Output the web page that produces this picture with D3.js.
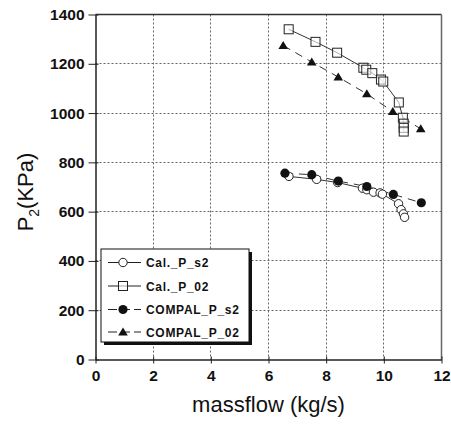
<!DOCTYPE html>
<html><head><meta charset="utf-8">
<script src="https://cdn.jsdelivr.net/npm/d3@7"></script>
<style>body{margin:0;background:#fff}svg{display:block}</style>
</head><body>
<svg id="c" width="451" height="424"></svg>
<script>
const xTicks = [0,2,4,6,8,10,12];
const yTicks = [0,200,400,600,800,1000,1200,1400];
const seriesNames = ["Cal._P_s2","Cal._P_02","COMPAL_P_s2","COMPAL_P_02"];
const calPs2X = [6.71,7.67,8.40,9.26,9.41,9.64,9.87,9.95,10.51,10.60,10.68,10.72];
const calPs2Y = [743,731,718,695,689,679,676,671,632,608,591,577];
const calP02X = [6.70,7.63,8.38,9.29,9.39,9.60,9.90,9.98,10.52,10.66,10.69,10.69,10.69];
const calP02Y = [1340,1289,1245,1184,1176,1162,1136,1128,1043,981,957,940,925];
const compPs2X = [6.57,7.50,8.42,9.41,10.33,11.30];
const compPs2Y = [756,750,724,702,670,636];
const compP02X = [6.51,7.50,8.42,9.41,10.31,11.28];
const compP02Y = [1274,1207,1146,1078,1006,936];

const svg = d3.select("#c");
const L=95.5, R=441.5, T=14.5, B=359.5;
const x = d3.scaleLinear().domain([0,12]).range([L,R]);
const y = d3.scaleLinear().domain([0,1400]).range([B,T]);
const snap = v => Math.round(v-0.5)+0.5;

// grid
const grid = svg.append("g").attr("class","grid");
grid.selectAll("line.gx").data(xTicks.slice(1,-1)).join("line").attr("class","gx")
  .attr("x1",d=>snap(x(d))).attr("x2",d=>snap(x(d))).attr("y1",T).attr("y2",B)
  .style("stroke","#666").style("stroke-width","1px").style("stroke-dasharray","2,2");
grid.selectAll("line.gy").data(yTicks.slice(1,-1)).join("line").attr("class","gy")
  .attr("x1",L).attr("x2",R).attr("y1",d=>snap(y(d))).attr("y2",d=>snap(y(d)))
  .style("stroke","#666").style("stroke-width","1px").style("stroke-dasharray","2,2");

// frame
svg.append("line").attr("x1",L).attr("x2",R).attr("y1",T).attr("y2",T).attr("stroke","#333").attr("stroke-width",1.5);
svg.append("line").attr("x1",R).attr("x2",R).attr("y1",T).attr("y2",B).attr("stroke","#666").attr("stroke-width",1.5);

// axes
const tickFont = "bold 15.5px 'Liberation Sans', Arial, sans-serif";
const xAxis = svg.append("g").attr("transform",`translate(0,${B})`)
  .call(d3.axisBottom(x).tickValues(xTicks).tickFormat(d3.format("d")).tickSizeInner(4).tickSizeOuter(0).tickPadding(6));
xAxis.selectAll(".tick line").attr("y1",-3);
const yAxis = svg.append("g").attr("transform",`translate(${L},0)`)
  .call(d3.axisLeft(y).tickValues(yTicks).tickFormat(d3.format("d")).tickSizeInner(7).tickSizeOuter(0).tickPadding(4));
yAxis.selectAll(".tick line").attr("x1",3);
[xAxis,yAxis].forEach(a=>{
  a.select(".domain").attr("stroke","#222").attr("stroke-width",1.5);
  a.selectAll(".tick line").attr("stroke","#222");
  a.selectAll("text").style("font",tickFont).attr("fill","#111");
});

// axis titles
svg.append("text").attr("x",(L+R)/2).attr("y",412).attr("text-anchor","middle")
  .style("font","22px 'Liberation Sans', Arial, sans-serif").attr("fill","#111").text("massflow (kg/s)");
const yt = svg.append("text").attr("transform","translate(33,192) rotate(-90)").attr("text-anchor","middle")
  .style("font","22px 'Liberation Sans', Arial, sans-serif").attr("fill","#111");
yt.append("tspan").text("P");
yt.append("tspan").attr("dy",6).style("font-size","14px").text("2");
yt.append("tspan").attr("dy",-6).text("(KPa)");

// lines
const line = d3.line().x(d=>x(d[0])).y(d=>y(d[1]));
const zip = (a,b)=>a.map((v,i)=>[v,b[i]]);
const series = [
  {name:seriesNames[0], pts:zip(calPs2X,calPs2Y), dash:null, marker:"circleOpen"},
  {name:seriesNames[1], pts:zip(calP02X,calP02Y), dash:null, marker:"square"},
  {name:seriesNames[2], pts:zip(compPs2X,compPs2Y), dash:"8,6", marker:"circleFilled"},
  {name:seriesNames[3], pts:zip(compP02X,compP02Y), dash:"8,6", marker:"triangle"},
];
function drawMarker(g, type, cx, cy){
  if(type==="circleOpen") g.append("circle").attr("cx",cx).attr("cy",cy).attr("r",4.2).attr("fill","#fff").attr("stroke","#222").attr("stroke-width",1);
  else if(type==="circleFilled") g.append("circle").attr("cx",cx).attr("cy",cy).attr("r",4.6).attr("fill","#111");
  else if(type==="square") g.append("rect").attr("x",cx-4.5).attr("y",cy-4.5).attr("width",9).attr("height",9).attr("fill","#fff").attr("fill-opacity",0.6).attr("stroke","#222").attr("stroke-width",1);
  else if(type==="triangle") g.append("path").attr("d",`M${cx},${cy-4.5}L${cx+4.8},${cy+3.5}L${cx-4.8},${cy+3.5}Z`).attr("fill","#111");
}
series.forEach(s=>{
  svg.append("path").datum(s.pts).attr("d",line).attr("fill","none")
    .attr("stroke","#333").attr("stroke-width",1).attr("stroke-dasharray",s.dash);
});
series.forEach(s=>{
  const g = svg.append("g");
  s.pts.forEach(p=>drawMarker(g,s.marker,x(p[0]),y(p[1])));
});

// legend
const lg = svg.append("g");
lg.append("rect").attr("x",104).attr("y",252).attr("width",148).attr("height",93).attr("fill","#111");
lg.append("rect").attr("x",101).attr("y",249).attr("width",148).attr("height",93).attr("fill","#fff").attr("stroke","#111").attr("stroke-width",1);
const ly = [262.5,286,309.5,332];
series.forEach((s,i)=>{
  lg.append("line").attr("x1",108).attr("x2",141).attr("y1",ly[i]).attr("y2",ly[i])
    .attr("stroke","#222").attr("stroke-width",1).attr("stroke-dasharray",s.dash?"9,4":null);
  drawMarker(lg,s.marker,123,ly[i]);
  lg.append("text").attr("x",146).attr("y",ly[i]+4.5)
    .style("font","bold 12px 'Liberation Sans', Arial, sans-serif").attr("letter-spacing","0.7px").attr("fill","#111").text(s.name);
});
</script>
</body></html>
